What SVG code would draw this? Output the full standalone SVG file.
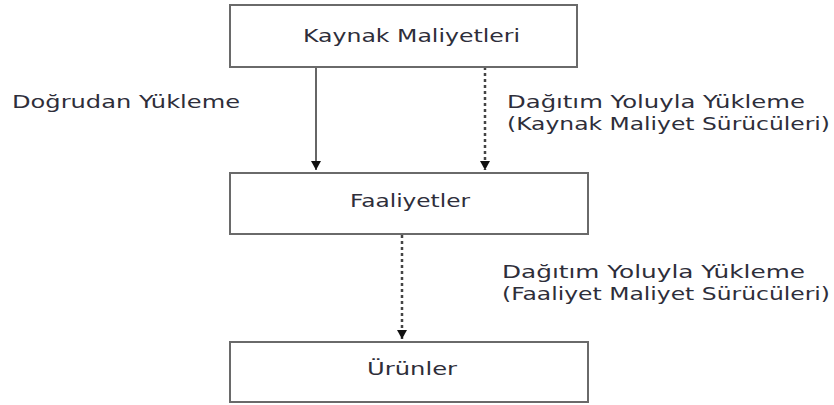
<svg xmlns="http://www.w3.org/2000/svg" width="834" height="405" viewBox="0 0 834 405">
<style>
.box{fill:#fff;stroke:#6a6a6a;stroke-width:2}
.t{font-family:"DejaVu Sans","Liberation Sans",sans-serif;font-size:17px;fill:#2e2e3a}
.solid{stroke:#666;stroke-width:2;fill:none}
.dot{stroke:#444;stroke-width:2.5;stroke-dasharray:3 3;fill:none}
</style>
<defs>
<marker id="down" viewBox="0 0 10 9" refX="5" refY="9" markerWidth="10" markerHeight="9" markerUnits="userSpaceOnUse">
<path d="M0,0 L10,0 L5,9 Z" fill="#111"/>
</marker>
</defs>
<rect width="834" height="405" fill="#fff"/>
<g id="connectors">
<line class="solid" x1="316" y1="67" x2="316" y2="170" marker-end="url(#down)"/>
<line class="dot" x1="485" y1="67" x2="485" y2="170" marker-end="url(#down)"/>
<line class="dot" x1="402" y1="235" x2="402" y2="339" marker-end="url(#down)"/>
</g>
<g id="n1">
<rect class="box" x="230" y="5" width="347" height="62"/>
<text class="t" x="303" y="42" textLength="217" lengthAdjust="spacingAndGlyphs">Kaynak Maliyetleri</text>
</g>
<g id="n2">
<rect class="box" x="230" y="173" width="358" height="61"/>
<text class="t" x="350" y="207" textLength="120" lengthAdjust="spacingAndGlyphs">Faaliyetler</text>
</g>
<g id="n3">
<rect class="box" x="230" y="342" width="358" height="60"/>
<text class="t" x="367" y="375" textLength="90" lengthAdjust="spacingAndGlyphs">Ürünler</text>
</g>
<g id="labels">
<text class="t" x="12" y="108" textLength="228" lengthAdjust="spacingAndGlyphs">Doğrudan Yükleme</text>
<text class="t" x="507" y="108" textLength="298" lengthAdjust="spacingAndGlyphs">Dağıtım Yoluyla Yükleme</text>
<text class="t" x="507" y="130" textLength="323" lengthAdjust="spacingAndGlyphs">(Kaynak Maliyet Sürücüleri)</text>
<text class="t" x="502" y="278" textLength="303" lengthAdjust="spacingAndGlyphs">Dağıtım Yoluyla Yükleme</text>
<text class="t" x="502" y="300" textLength="328" lengthAdjust="spacingAndGlyphs">(Faaliyet Maliyet Sürücüleri)</text>
</g>
</svg>
